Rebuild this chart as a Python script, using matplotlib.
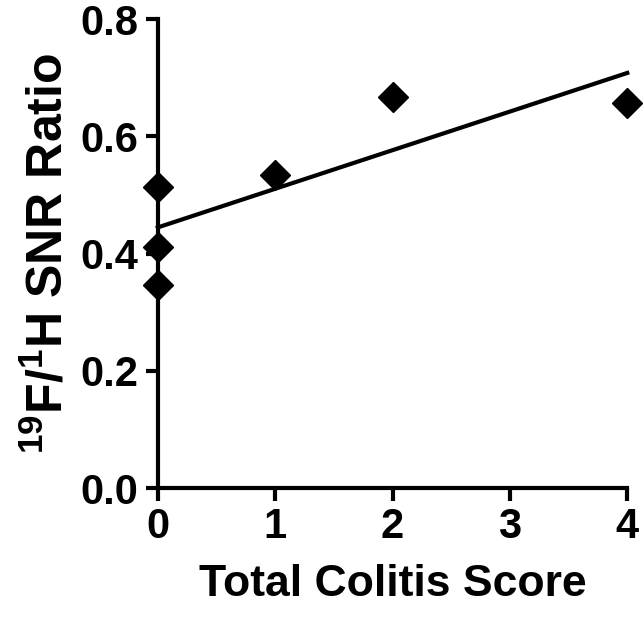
import numpy as np
import matplotlib
matplotlib.use('Agg')
import matplotlib.pyplot as plt

plt.rcParams['font.family'] = 'Liberation Sans'
plt.rcParams['font.weight'] = 'bold'
plt.rcParams['mathtext.fontset'] = 'custom'
plt.rcParams['mathtext.rm'] = 'Liberation Sans:bold'
plt.rcParams['mathtext.it'] = 'Liberation Sans:bold'
plt.rcParams['mathtext.bf'] = 'Liberation Sans:bold'

# Data
colitis_score = [0, 0, 0, 1, 2, 4]
snr_ratio = [0.514, 0.411, 0.346, 0.534, 0.667, 0.657]
x_ticks = [0, 1, 2, 3, 4]
y_ticks = [0.0, 0.2, 0.4, 0.6, 0.8]

# Linear fit
slope, intercept = np.polyfit(colitis_score, snr_ratio, 1)
fit_x = np.array([0, 4])
fit_y = slope * fit_x + intercept

fig = plt.figure(figsize=(6.44, 6.17), dpi=100)
ax = fig.add_axes([0.245, 0.209, 0.729, 0.760])

ax.plot(fit_x, fit_y, color='black', linewidth=3, clip_on=False, zorder=2)
ax.plot(colitis_score, snr_ratio, linestyle='none', marker='D', markersize=15,
        color='black', clip_on=False, zorder=3)

ax.set_xlim(0, 4)
ax.set_ylim(0, 0.8)
ax.set_xticks(x_ticks)
ax.set_yticks(y_ticks)
ax.set_yticklabels([f'{v:.1f}' for v in y_ticks])

for side in ['top', 'right']:
    ax.spines[side].set_visible(False)
for side in ['left', 'bottom']:
    ax.spines[side].set_linewidth(3)
ax.tick_params(axis='both', length=9, width=3, labelsize=30, pad=5)

ax.set_xlabel('Total Colitis Score', fontsize=32, fontweight='bold', labelpad=12)
ax.set_ylabel(r'$^{19}$F/$^{1}$H SNR Ratio', fontsize=36, fontweight='bold', labelpad=6)

fig.savefig('out.png', dpi=100)
